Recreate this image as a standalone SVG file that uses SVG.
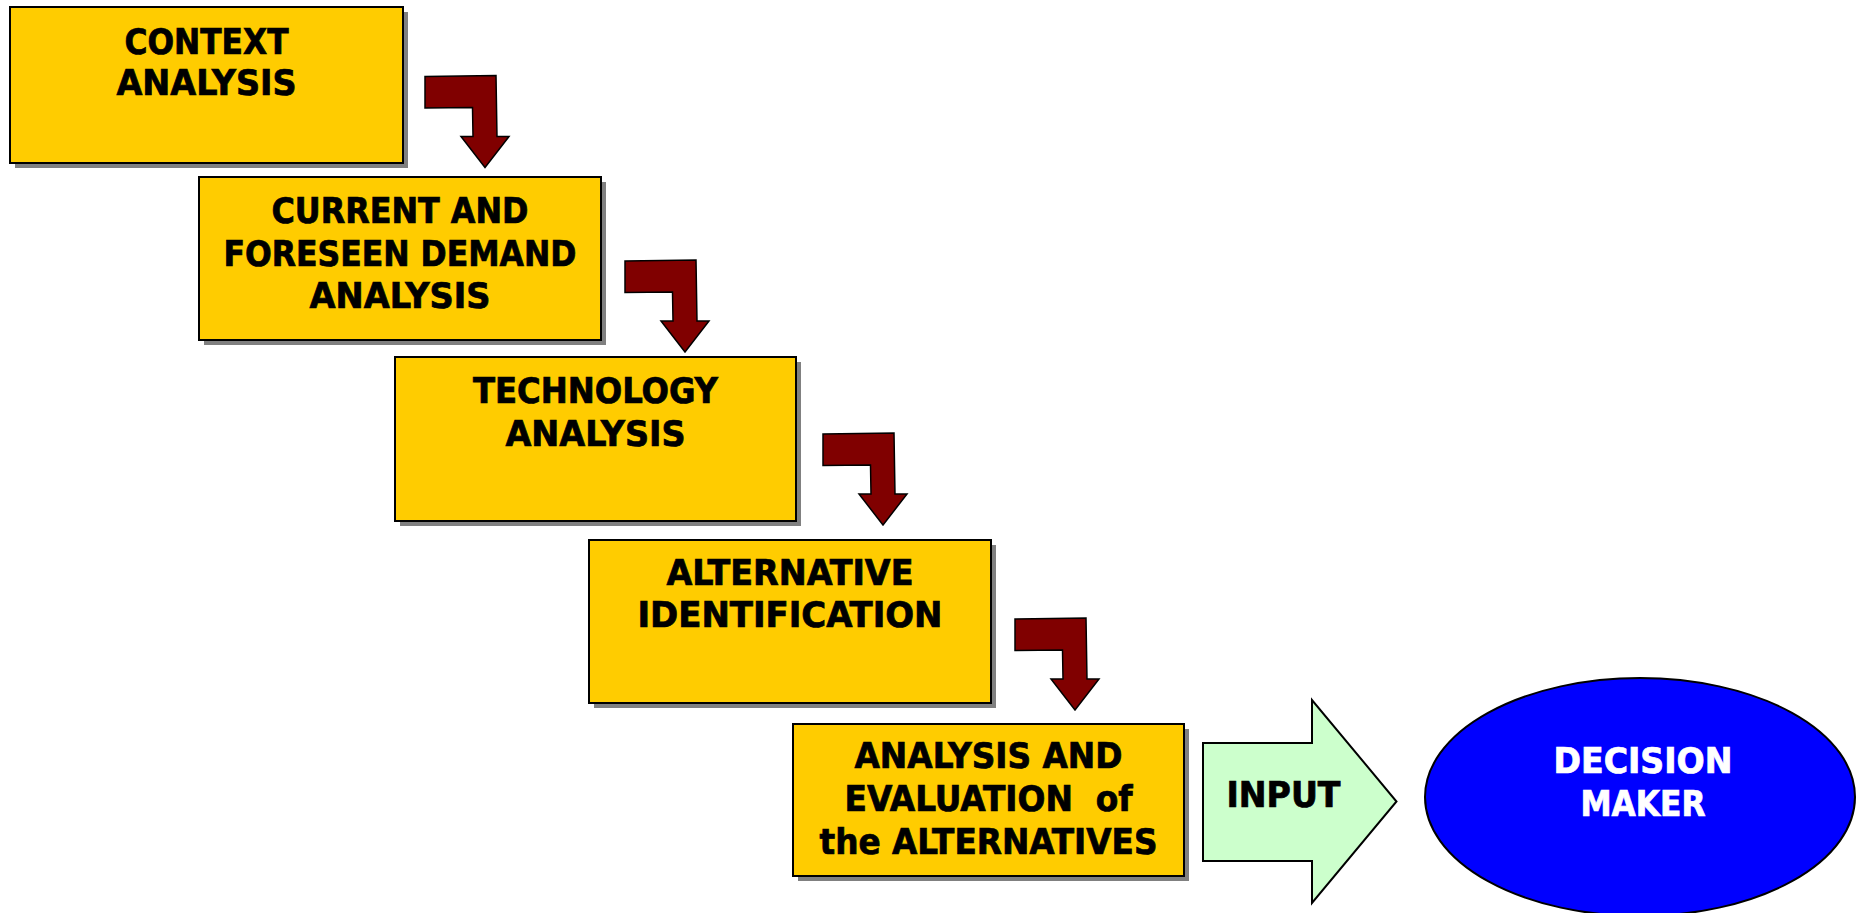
<svg xmlns="http://www.w3.org/2000/svg" width="1862" height="913" viewBox="0 0 1862 913">
<defs>
<style>
.shadow{fill:#808080}
.box{fill:#FFCC00;stroke:#000;stroke-width:2}
.lbl{font-family:"DejaVu Sans Condensed","DejaVu Sans","Liberation Sans",sans-serif;font-weight:bold;font-size:35px;text-anchor:middle;fill:#000;stroke:#000;stroke-width:0.7}
.white{fill:#fff;stroke:#fff}
.bend{fill:#800000;stroke:#000;stroke-width:1.5;stroke-linejoin:miter}
</style>
<path id="bendArrow" d="M0,0 L71,-1 L72,60 L84,60 L60,91 L36,60 L48,60 L47.5,31 L0,31.5 Z"/>
</defs>
<rect width="1862" height="913" fill="#fff"/>

<g id="connectors">
<use href="#bendArrow" class="bend" transform="translate(425,76.5)"/>
<use href="#bendArrow" class="bend" transform="translate(625,261)"/>
<use href="#bendArrow" class="bend" transform="translate(823,434)"/>
<use href="#bendArrow" class="bend" transform="translate(1015,619)"/>
</g>

<g id="context-analysis">
<rect class="shadow" x="15" y="12" width="393" height="156"/>
<rect class="box" x="10" y="7" width="393" height="156"/>
<text class="lbl" x="206.5" y="54" textLength="164" lengthAdjust="spacingAndGlyphs">CONTEXT</text>
<text class="lbl" x="206.5" y="95" textLength="180" lengthAdjust="spacingAndGlyphs">ANALYSIS</text>
</g>

<g id="demand-analysis">
<rect class="shadow" x="204" y="182" width="402" height="163"/>
<rect class="box" x="199" y="177" width="402" height="163"/>
<text class="lbl" x="400" y="223" textLength="257" lengthAdjust="spacingAndGlyphs">CURRENT AND</text>
<text class="lbl" x="400" y="266" textLength="353" lengthAdjust="spacingAndGlyphs">FORESEEN DEMAND</text>
<text class="lbl" x="400" y="308" textLength="181" lengthAdjust="spacingAndGlyphs">ANALYSIS</text>
</g>

<g id="technology-analysis">
<rect class="shadow" x="400" y="362" width="401" height="164"/>
<rect class="box" x="395" y="357" width="401" height="164"/>
<text class="lbl" x="595.5" y="403" textLength="245" lengthAdjust="spacingAndGlyphs">TECHNOLOGY</text>
<text class="lbl" x="595.5" y="446" textLength="180" lengthAdjust="spacingAndGlyphs">ANALYSIS</text>
</g>

<g id="alternative-identification">
<rect class="shadow" x="594" y="545" width="402" height="163"/>
<rect class="box" x="589" y="540" width="402" height="163"/>
<text class="lbl" x="790" y="585" textLength="247" lengthAdjust="spacingAndGlyphs">ALTERNATIVE</text>
<text class="lbl" x="790" y="627" textLength="305" lengthAdjust="spacingAndGlyphs">IDENTIFICATION</text>
</g>

<g id="analysis-evaluation">
<rect class="shadow" x="798" y="729" width="391" height="152"/>
<rect class="box" x="793" y="724" width="391" height="152"/>
<text class="lbl" x="988.5" y="768" textLength="268" lengthAdjust="spacingAndGlyphs">ANALYSIS AND</text>
<text class="lbl" x="988.5" y="811" textLength="288" lengthAdjust="spacingAndGlyphs" style="white-space:pre" xml:space="preserve">EVALUATION  of</text>
<text class="lbl" x="988.5" y="854" textLength="338" lengthAdjust="spacingAndGlyphs">the ALTERNATIVES</text>
</g>

<g id="input">
<path d="M1203,743 L1312,743 L1312,700 L1396.5,801.5 L1312,903 L1312,861 L1203,861 Z" fill="#CCFFCC" stroke="#000" stroke-width="2" stroke-linejoin="miter"/>
<text class="lbl" x="1283.5" y="807" textLength="114" lengthAdjust="spacingAndGlyphs">INPUT</text>
</g>

<g id="decision-maker">
<ellipse cx="1640" cy="797" rx="215" ry="119" fill="#0000FF" stroke="#000" stroke-width="2"/>
<text class="lbl white" x="1643" y="773" textLength="179" lengthAdjust="spacingAndGlyphs">DECISION</text>
<text class="lbl white" x="1643" y="816" textLength="125" lengthAdjust="spacingAndGlyphs">MAKER</text>
</g>
</svg>
